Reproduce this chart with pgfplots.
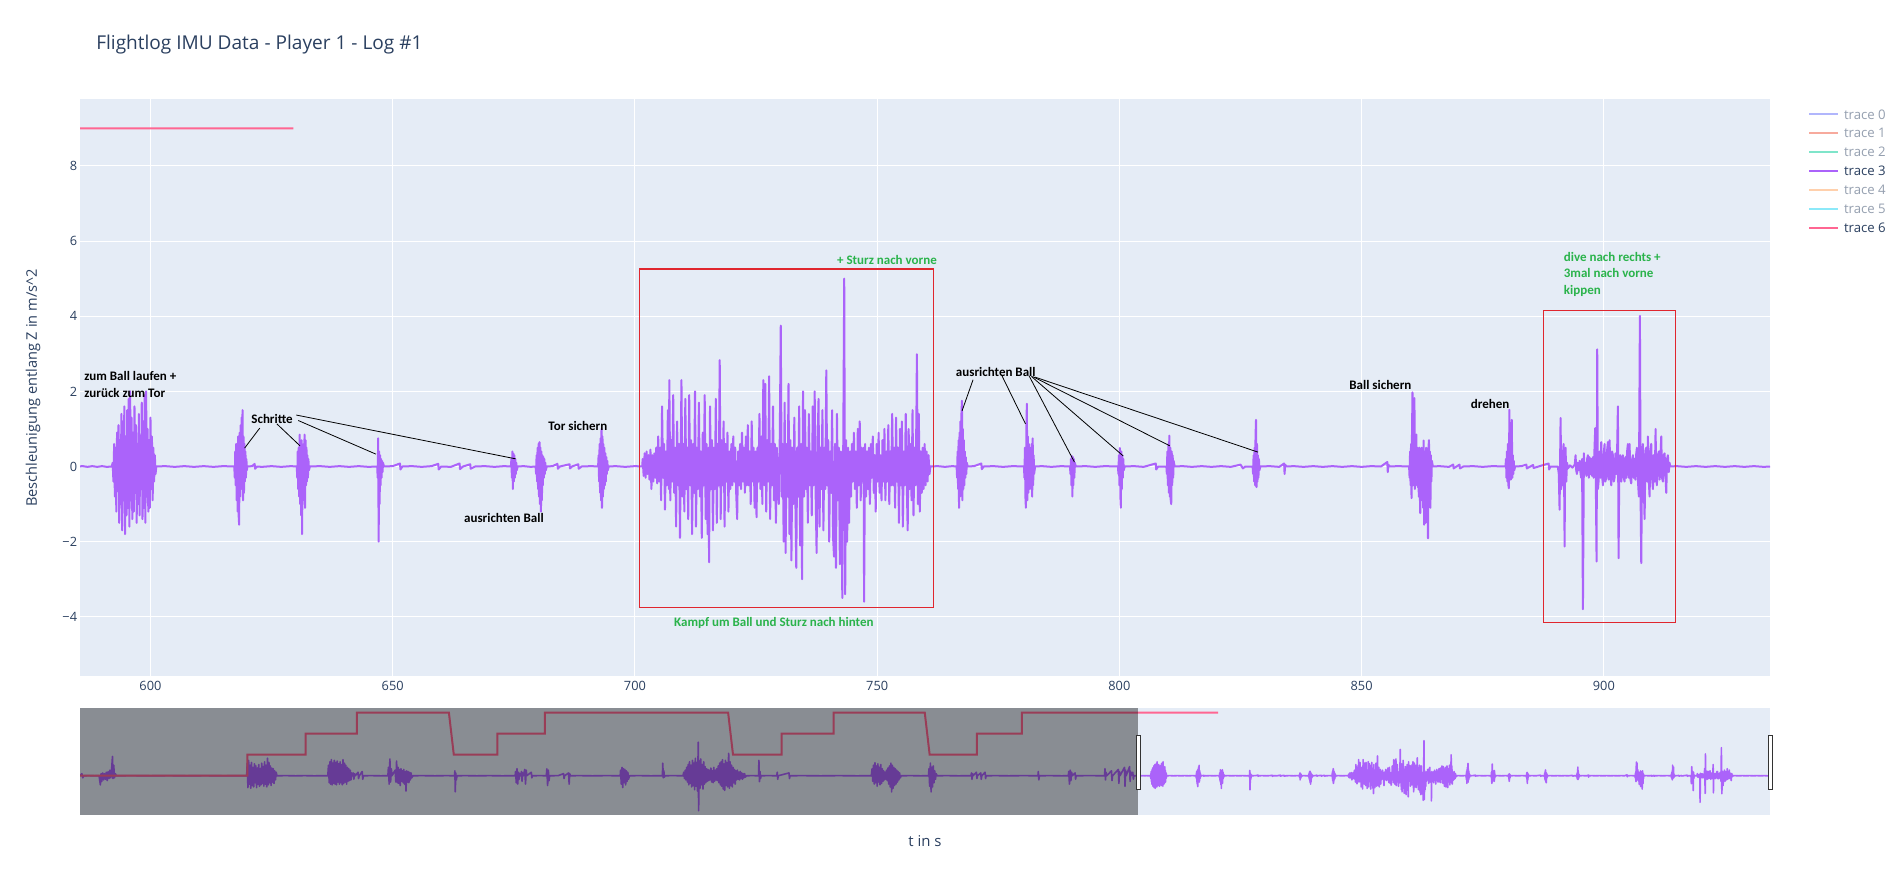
\documentclass[border=0pt]{standalone}
\usepackage{pgfplots}
\usepackage{pgfplotstable}
\pgfplotsset{compat=1.18}
\usepackage{fontspec}
\setmainfont{Open Sans}
\newfontfamily\annfont{Carlito}
\definecolor{plotbg}{HTML}{E5ECF6}
\definecolor{plottext}{HTML}{2A3F5F}
\definecolor{tr0}{HTML}{636EFA}
\definecolor{tr1}{HTML}{EF553B}
\definecolor{tr2}{HTML}{00CC96}
\definecolor{tr3}{HTML}{AB63FA}
\definecolor{tr4}{HTML}{FFA15A}
\definecolor{tr5}{HTML}{19D3F3}
\definecolor{tr6}{HTML}{FF6692}
\definecolor{anngreen}{HTML}{2AB34B}
\definecolor{boxred}{HTML}{E0262E}
\newcommand\ann{\annfont\bfseries\fontsize{9.75}{12.4}\selectfont}

% trace 3 : visible window (main plot)
\pgfplotstableread[row sep=\\]{
x y\\
585 0\\ 586 0.01\\ 587 -0.01\\ 588 0.01\\ 589 -0.01\\ 590 0.01\\ 591 -0.01\\ 592 0\\
592.2 0.1\\ 592.35 -0.4\\ 592.5 0.6\\ 592.65 -0.8\\ 592.8 0.5\\ 592.95 -1.2\\ 593.1 0.9\\ 593.25 -0.6\\ 593.4 1.1\\ 593.55 -1.5\\ 593.7 0.7\\ 593.85 -1.0\\ 594.0 1.4\\ 594.15 -1.7\\ 594.3 1.2\\ 594.45 -0.9\\ 594.6 1.6\\ 594.75 -1.8\\ 594.9 0.8\\ 595.05 -1.3\\ 595.2 1.5\\ 595.35 -1.1\\ 595.5 1.8\\ 595.65 -1.6\\ 595.8 2.0\\ 595.95 -0.9\\ 596.1 1.3\\ 596.25 -1.4\\ 596.4 0.9\\ 596.55 -1.2\\ 596.7 1.6\\ 596.85 -0.7\\ 597.0 1.1\\ 597.15 -1.5\\ 597.3 0.6\\ 597.45 -1.0\\ 597.6 1.4\\ 597.75 -1.3\\ 597.9 0.8\\ 598.05 -0.6\\ 598.2 1.7\\ 598.35 -1.4\\ 598.5 1.2\\ 598.65 -1.1\\ 598.8 1.9\\ 598.95 -1.5\\ 599.1 2.0\\ 599.25 -0.8\\ 599.4 1.0\\ 599.55 -1.2\\ 599.7 0.7\\ 599.85 -1.1\\ 600.0 1.3\\ 600.15 -0.6\\ 600.3 0.8\\ 600.45 -0.9\\ 600.6 0.5\\ 600.75 -0.4\\ 600.9 0.3\\ 601.05 -0.2\\ 601.2 0\\
603 0.01\\ 605 -0.01\\ 607 0.01\\ 609 -0.01\\ 611 0.01\\ 613 -0.01\\ 615 0.01\\ 617.3 0\\
617.4 -0.3\\ 617.5 0.4\\ 617.6 -0.5\\ 617.7 0.6\\ 617.8 -0.9\\ 617.9 0.5\\ 618.0 -1.2\\ 618.1 0.8\\ 618.2 -1.3\\ 618.3 -1.55\\ 618.4 0.9\\ 618.5 -0.8\\ 618.6 1.1\\ 618.7 -0.6\\ 618.8 1.3\\ 618.9 -0.5\\ 619.0 1.5\\ 619.1 -0.9\\ 619.2 0.8\\ 619.3 -0.7\\ 619.4 0.6\\ 619.5 -0.4\\ 619.6 0.4\\ 619.7 -0.3\\ 619.8 0.2\\ 619.9 -0.1\\ 620.0 0\\
621 0.01\\ 621.5 0.07\\ 621.6 -0.06\\ 622 0\\ 623 -0.01\\ 625 0.01\\ 627 -0.01\\ 629 0.01\\ 630.2 0\\
630.3 -0.3\\ 630.4 0.4\\ 630.5 -0.6\\ 630.6 0.5\\ 630.7 -0.8\\ 630.8 0.85\\ 630.9 -1.0\\ 631.0 0.6\\ 631.1 -1.3\\ 631.2 0.7\\ 631.3 -1.8\\ 631.4 0.5\\ 631.5 -0.9\\ 631.6 0.6\\ 631.7 -0.7\\ 631.8 0.85\\ 631.9 -1.1\\ 632.0 0.7\\ 632.1 -0.5\\ 632.2 0.5\\ 632.3 -0.4\\ 632.4 0.3\\ 632.5 -0.3\\ 632.6 0.2\\ 632.7 -0.1\\ 632.9 0\\
635 0.01\\ 637 -0.01\\ 639 0.01\\ 641 -0.01\\ 643 0.01\\ 645 -0.01\\ 646.8 0\\
646.9 -0.3\\ 647.0 0.75\\ 647.1 -2.0\\ 647.2 0.4\\ 647.3 -1.0\\ 647.4 0.3\\ 647.5 -0.5\\ 647.6 0.2\\ 647.7 -0.3\\ 647.8 0.15\\ 647.9 -0.15\\ 648.0 0.1\\ 648.2 0\\
650 0.01\\ 651.5 0.08\\ 651.6 -0.08\\ 652 0\\ 654 0.01\\ 656 -0.01\\ 658 0.01\\ 659.4 0.07\\ 659.5 -0.08\\ 660 0\\ 662 -0.01\\ 663.8 0.08\\ 663.9 -0.07\\ 664.5 0\\ 666 0.06\\ 666.1 -0.06\\ 667 0\\ 669 0.01\\ 671 -0.01\\ 673 0.01\\ 674.4 0\\
674.5 0.2\\ 674.6 -0.3\\ 674.7 0.4\\ 674.8 -0.6\\ 674.9 0.35\\ 675.0 -0.4\\ 675.1 0.3\\ 675.2 -0.3\\ 675.3 0.2\\ 675.4 -0.2\\ 675.5 0.1\\ 675.6 -0.1\\ 675.8 0\\
677 0.01\\ 678.5 -0.01\\ 679.5 0\\
679.6 -0.2\\ 679.7 0.3\\ 679.8 -0.4\\ 679.9 0.5\\ 680.0 -0.6\\ 680.1 0.6\\ 680.2 -0.8\\ 680.3 0.65\\ 680.4 -1.0\\ 680.5 0.5\\ 680.6 -1.2\\ 680.7 0.4\\ 680.8 -0.9\\ 680.9 0.3\\ 681.0 -0.5\\ 681.1 0.25\\ 681.2 -0.3\\ 681.3 0.2\\ 681.4 -0.2\\ 681.5 0.1\\ 681.6 -0.1\\ 681.8 0\\
683 0.01\\ 684 0.07\\ 684.1 -0.06\\ 684.5 0\\ 686.5 0.06\\ 686.6 -0.05\\ 687 0\\ 688.3 0.06\\ 688.4 -0.06\\ 689 0\\ 691 0.01\\ 692.4 0\\
692.5 0.3\\ 692.6 -0.4\\ 692.7 0.6\\ 692.8 -0.7\\ 692.9 0.75\\ 693.0 -0.9\\ 693.1 1.0\\ 693.2 -1.1\\ 693.3 0.8\\ 693.4 -0.8\\ 693.5 0.6\\ 693.6 -0.6\\ 693.7 0.5\\ 693.8 -0.5\\ 693.9 0.35\\ 694.0 -0.4\\ 694.1 0.25\\ 694.2 -0.2\\ 694.3 0.15\\ 694.4 -0.1\\ 694.6 0\\
696 0.01\\ 698 -0.01\\ 700 0.01\\ 701.5 0\\
701.6 0.2\\ 701.8 -0.25\\ 702.0 0.35\\ 702.2 -0.3\\ 702.4 0.4\\ 702.6 -0.2\\ 702.8 0.3\\ 703.0 -0.35\\ 703.2 0.45\\ 703.4 -0.6\\ 703.6 0.3\\ 703.8 -0.4\\ 704.0 0.35\\ 704.2 -0.3\\ 704.4 0.5\\ 704.6 -0.45\\
704.8 0.8\\ 705.0 -0.4\\ 705.2 0.5\\ 705.4 -0.9\\ 705.6 1.6\\ 705.8 -0.3\\ 706.0 0.6\\ 706.2 -1.15\\ 706.4 0.4\\ 706.6 -0.5\\
706.8 1.5\\ 707.0 -0.6\\ 707.1 2.3\\ 707.3 -0.9\\ 707.5 0.7\\ 707.7 -0.4\\ 707.9 1.9\\ 708.1 -0.7\\ 708.3 0.5\\ 708.5 -1.6\\ 708.7 1.2\\ 708.9 -0.5\\ 709.1 0.6\\ 709.3 -1.9\\
709.6 2.3\\ 709.8 -0.8\\ 710.0 0.6\\ 710.2 -1.2\\ 710.4 1.8\\ 710.6 -0.6\\ 710.8 0.5\\ 711.0 -1.4\\ 711.2 1.9\\ 711.4 -0.5\\ 711.6 0.7\\ 711.8 -1.8\\ 712.0 0.6\\ 712.2 -0.7\\ 712.4 2.0\\ 712.6 -1.6\\ 712.8 0.5\\ 713.0 -0.6\\ 713.2 1.7\\ 713.4 -0.8\\ 713.6 0.4\\ 713.8 -1.9\\ 714.0 0.9\\ 714.2 -0.5\\ 714.4 1.9\\ 714.6 -1.4\\ 714.8 0.6\\
715.0 -1.8\\ 715.2 0.5\\ 715.3 -2.55\\ 715.5 1.6\\ 715.7 -0.6\\ 715.9 0.7\\ 716.1 -1.7\\ 716.3 0.5\\ 716.5 -0.6\\ 716.7 1.8\\ 716.9 -1.5\\ 717.1 0.6\\ 717.3 -0.5\\ 717.5 2.83\\ 717.7 -1.4\\ 717.9 0.7\\ 718.1 -0.5\\ 718.3 1.2\\ 718.5 -1.6\\ 718.7 0.6\\ 718.9 -0.4\\ 719.1 0.9\\ 719.3 -1.2\\ 719.5 0.4\\
719.7 -0.6\\ 719.9 0.6\\ 720.1 -0.5\\ 720.3 0.8\\ 720.5 -0.4\\ 720.7 0.5\\ 720.9 -0.7\\ 721.1 -1.4\\ 721.3 0.4\\ 721.5 -0.5\\ 721.7 0.6\\ 721.9 -0.6\\ 722.1 0.9\\ 722.3 -0.4\\ 722.5 0.5\\ 722.7 -0.7\\ 722.9 0.8\\ 723.1 -0.5\\
723.3 1.1\\ 723.5 -0.5\\ 723.7 0.4\\ 723.9 -1.0\\ 724.1 1.2\\ 724.3 -0.4\\ 724.5 0.5\\ 724.7 -1.1\\ 724.9 0.4\\ 725.1 -1.35\\ 725.3 0.5\\ 725.5 -0.4\\ 725.7 1.4\\ 725.9 -0.6\\ 726.1 0.8\\ 726.3 -1.0\\ 726.5 2.3\\ 726.7 -0.5\\ 726.9 2.2\\ 727.1 -1.2\\ 727.3 0.7\\ 727.5 -0.4\\ 727.7 2.4\\ 727.9 -1.4\\ 728.1 0.6\\ 728.3 -0.5\\ 728.5 1.6\\ 728.7 -0.9\\ 728.9 0.6\\ 729.1 -1.5\\ 729.3 0.5\\ 729.5 -0.7\\
729.7 -1.0\\ 729.9 0.8\\ 730.1 3.75\\ 730.3 -0.8\\ 730.5 0.6\\ 730.7 -2.0\\ 730.9 1.7\\ 731.1 -2.3\\ 731.3 0.6\\ 731.5 -0.8\\ 731.7 2.2\\ 731.9 -1.8\\ 732.1 0.7\\ 732.3 -2.5\\ 732.5 0.5\\ 732.7 -1.0\\ 732.9 1.3\\ 733.1 -0.7\\ 733.3 -2.7\\ 733.5 0.5\\ 733.7 -0.8\\ 733.9 1.6\\ 734.1 -2.1\\ 734.3 0.6\\ 734.5 -3.0\\ 734.7 2.0\\ 734.9 -0.8\\ 735.1 1.5\\
735.3 -0.6\\ 735.5 0.5\\ 735.7 -1.5\\ 735.9 1.4\\ 736.1 -0.5\\ 736.3 0.4\\ 736.5 -1.3\\ 736.7 1.6\\ 736.9 -0.5\\ 737.1 2.0\\ 737.3 -0.7\\ 737.5 -2.3\\ 737.7 0.6\\ 737.9 1.8\\ 738.1 -1.6\\ 738.3 0.5\\ 738.5 -0.6\\ 738.7 1.5\\ 738.9 -1.7\\ 739.1 0.5\\ 739.3 -0.6\\ 739.5 2.56\\ 739.7 -0.5\\ 739.9 0.7\\ 740.1 -2.0\\ 740.3 0.4\\ 740.5 -0.7\\ 740.7 1.5\\ 740.9 -1.9\\ 741.1 -2.4\\ 741.3 0.6\\ 741.5 -2.7\\
741.7 1.4\\ 741.9 -0.9\\ 742.1 0.5\\ 742.3 -2.6\\ 742.5 0.4\\ 742.7 -0.8\\ 742.8 -3.5\\ 743.0 0.6\\ 743.2 5.0\\ 743.4 -3.4\\ 743.6 0.7\\ 743.8 -2.0\\ 744.0 0.5\\ 744.2 -1.5\\ 744.4 0.4\\
744.6 -0.8\\ 744.8 0.6\\ 745.0 -0.4\\ 745.2 0.9\\ 745.4 -0.6\\ 745.6 0.4\\ 745.8 -1.1\\ 746.0 1.0\\ 746.2 -0.5\\ 746.4 1.2\\ 746.6 -0.9\\ 746.8 0.5\\ 747.0 -0.4\\ 747.2 0.5\\ 747.3 -3.6\\ 747.5 0.6\\ 747.7 -0.8\\ 747.9 0.4\\ 748.1 -0.6\\ 748.3 0.5\\ 748.5 -1.0\\ 748.7 0.6\\ 748.9 -0.3\\ 749.1 0.8\\ 749.3 -0.7\\ 749.5 0.3\\ 749.7 -1.2\\ 749.9 0.6\\ 750.1 -0.4\\ 750.3 0.9\\ 750.5 -0.7\\ 750.7 0.3\\ 750.9 -0.9\\ 751.1 0.7\\ 751.3 -0.4\\ 751.5 1.0\\
751.7 -0.9\\ 751.9 0.4\\ 752.1 -0.4\\ 752.3 1.1\\ 752.5 -1.0\\ 752.7 0.4\\ 752.9 -0.5\\ 753.1 1.4\\ 753.3 -0.5\\ 753.5 0.5\\ 753.7 -1.1\\ 753.9 1.3\\ 754.1 -0.4\\ 754.3 0.5\\ 754.5 -1.5\\ 754.7 1.0\\ 754.9 -0.5\\ 755.1 1.2\\ 755.3 -1.6\\ 755.5 0.4\\ 755.7 -0.5\\ 755.9 1.4\\ 756.1 -0.4\\ 756.3 -1.7\\ 756.5 1.0\\ 756.7 -0.6\\ 756.9 0.6\\ 757.1 -0.9\\ 757.3 1.5\\ 757.5 -1.3\\ 757.7 0.5\\ 757.9 -0.5\\ 758.1 1.3\\ 758.2 2.99\\ 758.4 -1.0\\ 758.6 1.4\\ 758.8 -1.2\\ 759.0 0.4\\
759.2 -0.7\\ 759.4 0.5\\ 759.6 -0.6\\ 759.8 0.6\\ 760.0 -0.5\\ 760.2 0.4\\ 760.4 -0.4\\ 760.6 0.3\\ 760.8 -0.2\\ 761.0 0\\
762.5 0.01\\ 764 -0.01\\ 765.5 0.01\\ 766.4 0\\
766.5 -0.3\\ 766.6 0.4\\ 766.7 -0.6\\ 766.8 0.7\\ 766.9 -1.1\\ 767.0 0.9\\ 767.1 -0.8\\ 767.2 1.2\\ 767.3 -0.7\\ 767.4 1.4\\ 767.5 1.75\\ 767.6 -0.9\\ 767.7 1.0\\ 767.8 -0.6\\ 767.9 0.7\\ 768.0 -0.5\\ 768.1 0.4\\ 768.2 -0.3\\ 768.3 0.25\\ 768.4 -0.2\\ 768.5 0.1\\ 768.7 0\\
770 0.01\\ 771.5 0.08\\ 771.6 -0.07\\ 772 0\\ 774 0.01\\ 776 -0.01\\ 778 0.01\\ 780.3 0\\
780.4 -0.3\\ 780.5 0.5\\ 780.6 -0.8\\ 780.7 -1.1\\ 780.8 1.0\\ 780.9 1.67\\ 781.0 -0.9\\ 781.1 0.8\\ 781.2 -0.7\\ 781.3 0.6\\ 781.4 -0.6\\ 781.5 0.5\\ 781.6 -0.5\\ 781.7 0.45\\ 781.8 -0.6\\ 781.9 0.6\\ 782.0 -0.8\\ 782.1 0.75\\ 782.2 -0.5\\ 782.3 0.3\\ 782.4 -0.2\\ 782.6 0\\
784 0.01\\ 786 -0.01\\ 788 0.01\\ 789.8 0\\
789.9 -0.2\\ 790.0 0.2\\ 790.1 -0.5\\ 790.2 0.28\\ 790.3 -0.8\\ 790.4 0.25\\ 790.5 -0.5\\ 790.6 0.2\\ 790.7 -0.3\\ 790.8 0.1\\ 791.0 0\\
793 0.01\\ 795 -0.01\\ 797 0.01\\ 799.7 0\\
799.8 -0.2\\ 799.9 0.3\\ 800.0 -0.5\\ 800.1 0.49\\ 800.2 -0.8\\ 800.3 -1.1\\ 800.4 0.4\\ 800.5 -0.6\\ 800.6 0.3\\ 800.7 -0.3\\ 800.8 0.2\\ 800.9 -0.1\\ 801.1 0\\
803 0.01\\ 805 -0.01\\ 807.5 0.08\\ 807.6 -0.08\\ 808 0\\ 809.7 0\\
809.8 -0.2\\ 809.9 0.4\\ 810.0 -0.5\\ 810.1 0.6\\ 810.2 -0.7\\ 810.3 0.82\\ 810.4 -0.8\\ 810.5 0.5\\ 810.6 -0.9\\ 810.7 -1.0\\ 810.8 0.4\\ 810.9 -0.5\\ 811.0 0.3\\ 811.1 -0.3\\ 811.2 0.15\\ 811.4 0\\
813 0.01\\ 815 -0.01\\ 817 0.01\\ 819 -0.01\\ 821 0.01\\ 823 -0.01\\ 825 0.05\\ 825.5 -0.05\\ 826 0\\ 827.5 0\\
827.6 -0.2\\ 827.7 0.3\\ 827.8 -0.4\\ 827.9 0.5\\ 828.0 -0.5\\ 828.1 0.8\\ 828.2 1.24\\ 828.3 -0.55\\ 828.4 0.6\\ 828.5 -0.4\\ 828.6 0.3\\ 828.7 -0.3\\ 828.8 0.2\\ 828.9 -0.1\\ 829.1 0\\
831 0.01\\ 833 -0.01\\ 834.0 0.08\\ 834.1 -0.2\\ 834.2 0.05\\ 834.5 0\\ 836 0.01\\ 838 -0.01\\ 840 0.01\\ 842 -0.01\\ 844 0.01\\ 846 -0.01\\ 848 0.01\\ 850 -0.01\\ 852 0.01\\ 854 0\\ 855.3 0.12\\ 855.4 -0.15\\ 855.5 0.05\\ 855.8 0\\ 857.5 0.01\\ 859.8 0\\
859.9 -0.3\\ 860.0 0.4\\ 860.1 -0.5\\ 860.2 0.6\\ 860.3 -0.84\\ 860.4 0.9\\ 860.5 1.97\\ 860.6 -0.5\\ 860.7 1.0\\ 860.8 -0.4\\ 860.9 1.82\\ 861.0 -0.6\\ 861.1 0.7\\ 861.2 -0.4\\ 861.3 0.85\\ 861.4 -0.5\\ 861.5 0.5\\ 861.6 -0.55\\ 861.7 0.4\\ 861.8 -0.8\\ 861.9 0.5\\ 862.0 -0.6\\ 862.1 -1.24\\ 862.2 0.45\\ 862.3 -0.7\\ 862.4 0.5\\ 862.5 -0.9\\ 862.6 0.4\\ 862.7 -1.1\\ 862.8 0.69\\ 862.9 -1.55\\ 863.0 0.4\\ 863.1 -0.8\\ 863.2 -1.5\\ 863.3 0.5\\ 863.4 -1.0\\ 863.5 0.4\\ 863.6 -0.7\\ 863.7 -1.91\\ 863.8 0.5\\ 863.9 0.7\\ 864.0 -0.9\\ 864.1 0.4\\ 864.2 -1.1\\ 864.3 0.3\\ 864.4 -0.4\\ 864.5 0.15\\ 864.7 0\\
866 0.01\\ 868 -0.01\\ 868.9 0.05\\ 869.0 -0.05\\ 870.2 0.05\\ 870.3 -0.05\\ 871 0\\ 873 0.01\\ 875 -0.01\\ 877 0.01\\ 879.7 0\\
879.8 0.2\\ 879.9 -0.3\\ 880.0 0.4\\ 880.1 -0.4\\ 880.2 0.6\\ 880.3 -0.5\\ 880.4 -0.58\\ 880.5 1.51\\ 880.6 -0.3\\ 880.7 0.6\\ 880.8 -0.35\\ 880.9 0.8\\ 881.0 1.24\\ 881.1 -0.3\\ 881.2 0.3\\ 881.3 -0.2\\ 881.4 0.15\\ 881.5 -0.1\\ 881.7 0\\
883 0.01\\ 884 0.05\\ 884.1 -0.05\\ 885.4 0.04\\ 885.5 -0.04\\ 886.5 0\\ 888.6 0.08\\ 888.7 -0.08\\ 889 0\\ 890.5 0\\
890.7 -0.2\\ 890.86 -1.15\\ 891.0 0.5\\ 891.07 1.29\\ 891.2 -0.6\\ 891.3 0.4\\ 891.41 -0.5\\ 891.55 0.3\\ 891.69 0.6\\ 891.8 -0.4\\ 891.9 -2.13\\ 892.0 0.3\\ 892.1 0.5\\ 892.24 -0.4\\ 892.4 0.1\\ 892.6 -0.05\\ 893.0 0.03\\ 893.5 -0.03\\ 894.0 0.05\\ 894.16 0.3\\ 894.3 -0.1\\ 894.44 -0.2\\ 894.6 0.1\\ 894.8 -0.1\\ 895.0 0.15\\ 895.2 -0.2\\ 895.33 -0.3\\ 895.5 0.2\\ 895.68 -3.8\\ 895.88 0.35\\ 896.0 -0.2\\ 896.23 0.1\\ 896.4 -0.25\\ 896.55 0.2\\ 896.71 0.3\\ 896.9 -0.3\\ 897.05 0.25\\ 897.2 -0.2\\ 897.4 0.2\\ 897.55 -0.25\\ 897.74 0.25\\ 897.9 -0.3\\ 898.05 0.4\\ 898.22 1.02\\ 898.35 -0.5\\ 898.5 -2.53\\ 898.63 3.12\\ 898.77 -0.6\\ 898.91 -0.4\\ 899.0 0.3\\ 899.12 0.4\\ 899.3 -0.3\\ 899.46 0.65\\ 899.6 -0.2\\ 899.81 -0.5\\ 899.95 0.3\\ 900.15 0.6\\ 900.3 -0.4\\ 900.49 -0.3\\ 900.65 0.4\\ 900.84 0.65\\ 901.0 -0.35\\ 901.18 0.7\\ 901.35 -0.2\\ 901.53 -0.5\\ 901.7 0.4\\ 901.87 0.3\\ 902.05 -0.4\\ 902.21 -0.3\\ 902.4 0.35\\ 902.56 -0.2\\ 902.75 0.5\\ 902.9 1.6\\ 903.04 -2.44\\ 903.2 0.2\\ 903.38 0.3\\ 903.59 -0.4\\ 903.75 0.2\\ 903.93 0.3\\ 904.1 -0.3\\ 904.28 -0.4\\ 904.45 0.25\\ 904.62 -0.3\\ 904.8 0.4\\ 904.96 0.6\\ 905.15 -0.3\\ 905.31 0.6\\ 905.5 -0.35\\ 905.65 -0.45\\ 905.85 0.2\\ 906.0 0.3\\ 906.17 -0.3\\ 906.34 0.2\\ 906.5 -0.35\\ 906.65 0.3\\ 906.82 0.5\\ 907.0 -0.3\\ 907.23 -0.8\\ 907.44 4.01\\ 907.6 -1.0\\ 907.72 -2.57\\ 907.9 0.3\\ 908.06 0.6\\ 908.25 -0.5\\ 908.41 -1.4\\ 908.6 0.4\\ 908.75 0.5\\ 908.95 -0.4\\ 909.09 0.8\\ 909.25 -0.3\\ 909.44 -0.8\\ 909.6 0.4\\ 909.78 0.6\\ 909.95 -0.3\\ 910.13 -0.6\\ 910.3 0.3\\ 910.5 -0.4\\ 910.68 1.0\\ 910.8 -0.3\\ 910.95 -0.5\\ 911.15 0.3\\ 911.36 0.4\\ 911.5 -0.35\\ 911.7 0.3\\ 911.85 0.8\\ 912.0 -0.3\\ 912.19 -0.4\\ 912.35 0.3\\ 912.54 0.35\\ 912.7 -0.2\\ 912.88 -0.7\\ 913.05 0.2\\ 913.22 0.3\\ 913.4 -0.15\\ 913.57 0.1\\ 913.7 0\\
915 0.01\\ 917 -0.01\\ 919 0.01\\ 921 -0.01\\ 923 0.01\\ 925 -0.01\\ 927 0.01\\ 929 -0.01\\ 931 0.01\\ 933 -0.01\\ 934.3 0\\
}\maindata

% trace 3 : earlier part, only seen in the range slider
\pgfplotstableread[row sep=\\]{
x y\\
1 0\\ 2 0.3\\ 2.5 -0.3\\ 3 0\\ 6 0.01\\ 9 -0.01\\ 11.5 0\\
12.2 -1.3\\ 12.6 0.3\\ 13.0 -0.8\\ 13.5 0.4\\ 14.0 -0.6\\ 14.5 0.3\\ 15.0 -0.5\\ 15.5 0.5\\ 16.0 -0.7\\ 16.5 0.6\\ 17.0 -0.4\\ 17.5 0.8\\ 18.0 -0.3\\ 18.5 1.2\\ 18.9 2.75\\ 19.2 -0.4\\ 19.6 1.5\\ 20.0 -0.3\\ 20.5 0.3\\ 21 0\\
30 0.01\\ 40 -0.01\\ 50 0.01\\ 60 -0.01\\ 70 0.01\\ 80 -0.01\\ 93 0\\
93.3 1.8\\ 93.7 -1.7\\ 94.1 2.2\\ 94.5 -1.2\\ 94.9 1.5\\ 95.3 -1.8\\ 95.7 1.9\\ 96.1 -1.4\\ 96.5 1.2\\ 96.9 -1.6\\ 97.3 1.7\\ 97.7 -1.0\\ 98.1 1.4\\ 98.5 -1.7\\ 98.9 1.1\\ 99.3 -1.2\\ 99.7 1.6\\ 100.1 -1.5\\ 100.5 1.0\\ 100.9 -1.3\\ 101.3 1.8\\ 101.7 -1.1\\ 102.1 1.3\\ 102.5 -1.5\\ 102.9 2.0\\ 103.3 -1.2\\ 103.7 1.5\\ 104.1 -1.6\\ 104.5 2.5\\ 104.9 -1.3\\ 105.3 1.9\\ 105.7 -1.0\\ 106.1 1.4\\ 106.5 -1.4\\ 106.9 1.1\\ 107.3 -0.9\\ 107.7 1.0\\ 108.1 -1.1\\ 108.5 0.7\\ 108.9 -0.6\\ 109.3 0.5\\ 109.7 0\\
115 0.01\\ 120 -0.01\\ 125 0.01\\ 130 -0.01\\ 137.8 0\\
138.2 1.5\\ 138.6 -1.0\\ 139.0 2.0\\ 139.4 -1.2\\ 139.8 2.3\\ 140.2 -1.3\\ 140.6 1.8\\ 141.0 -1.1\\ 141.4 2.2\\ 141.8 -1.2\\ 142.2 1.9\\ 142.6 -1.3\\ 143.0 2.1\\ 143.4 -0.9\\ 143.8 1.7\\ 144.2 -1.2\\ 144.6 2.0\\ 145.0 -1.0\\ 145.4 1.6\\ 145.8 -1.3\\ 146.2 2.3\\ 146.6 -1.1\\ 147.0 1.8\\ 147.4 -0.9\\ 147.8 1.5\\ 148.2 -1.2\\ 148.6 1.2\\ 149.0 -0.8\\ 149.4 1.0\\ 149.8 -0.7\\ 150.2 0.8\\ 150.6 -0.6\\ 151.0 0.4\\ 151.4 0\\
151.8 0.4\\ 152.2 -0.5\\ 152.6 0.3\\ 153 0\\ 154.5 0.5\\ 154.8 -0.4\\ 155.2 0\\ 156.8 0.6\\ 157.1 -0.5\\ 157.5 0\\
162 0.01\\ 167 -0.01\\ 171 0\\
171.3 1.2\\ 171.7 -1.2\\ 172.1 2.4\\ 172.5 -0.9\\ 172.9 1.0\\ 173.3 0\\
175.0 0.8\\ 175.4 -0.9\\ 175.8 2.1\\ 176.2 -1.0\\ 176.6 1.2\\ 177.0 -1.1\\ 177.4 0.9\\ 177.8 -1.4\\ 178.2 1.0\\ 178.6 -0.8\\ 179.0 0.7\\ 179.4 -1.0\\ 179.8 0.9\\ 180.2 -1.2\\ 180.6 0.6\\ 181.0 -2.2\\ 181.4 0.7\\ 181.8 -0.9\\ 182.2 0.6\\ 182.6 -1.0\\ 183.0 0.5\\ 183.4 -0.6\\ 183.8 0.4\\ 184.2 -0.3\\ 184.8 0\\
190 0.01\\ 197 -0.01\\ 203 0.01\\ 207.8 0\\ 208.0 0.7\\ 208.2 -2.3\\ 208.5 0.4\\ 208.8 -0.6\\ 209.2 0\\
214 0.01\\ 220 -0.01\\ 227 0.01\\ 234 -0.01\\ 241.3 0\\
241.5 0.6\\ 241.9 -1.0\\ 242.3 1.0\\ 242.7 -1.2\\ 243.1 0.5\\ 243.5 -0.5\\ 243.9 0.3\\ 244.3 0\\ 244.8 0.6\\ 245.1 -0.8\\ 245.5 0.4\\ 245.8 0\\ 246.6 0.9\\ 247.0 -1.2\\ 247.4 0.8\\ 247.7 0\\ 250.2 0.5\\ 250.5 -0.3\\ 250.8 0\\
255 0.01\\ 258.5 0\\ 258.8 1.0\\ 259.2 -1.4\\ 259.6 0.8\\ 260.0 -0.7\\ 260.3 0\\ 265 0.01\\ 268 0.3\\ 268.3 -0.4\\ 268.6 0\\ 270.8 0.4\\ 271.1 -1.2\\ 271.4 0.3\\ 271.8 0\\
277 0.01\\ 284 -0.01\\ 291 0.01\\ 299.3 0\\
299.5 0.8\\ 299.9 -1.2\\ 300.3 1.2\\ 300.7 -1.7\\ 301.1 1.0\\ 301.5 -1.0\\ 301.9 0.9\\ 302.3 -1.3\\ 302.7 0.7\\ 303.1 -0.8\\ 303.5 0.5\\ 303.9 -0.5\\ 304.4 0\\
310 0.01\\ 316 -0.01\\ 322.6 0\\ 322.8 1.8\\ 323.1 -0.3\\ 323.4 0.7\\ 323.7 -0.2\\ 324 0\\ 328 0.01\\ 334 0\\
334.4 0.5\\ 334.8 -0.4\\ 335.2 0.8\\ 335.6 -0.6\\ 336.0 1.2\\ 336.4 -0.9\\ 336.8 1.6\\ 337.2 -1.3\\ 337.6 2.0\\ 338.0 -1.1\\ 338.4 1.5\\ 338.8 -1.6\\ 339.2 2.2\\ 339.6 -1.4\\ 340.0 1.8\\ 340.4 -2.0\\ 340.8 2.5\\ 341.2 -1.5\\ 341.6 1.9\\ 342.0 -2.2\\ 342.4 4.8\\ 342.6 -5.0\\ 343.0 2.1\\ 343.4 -1.8\\ 343.8 2.4\\ 344.2 -1.3\\ 344.6 1.6\\ 345.0 -1.9\\ 345.4 2.0\\ 345.8 -1.2\\ 346.2 1.3\\ 346.6 -1.0\\ 347.0 1.0\\ 347.4 -0.8\\ 347.8 0.9\\ 348.2 -0.7\\ 348.6 0.8\\ 349.0 -0.6\\ 349.4 1.1\\ 349.8 -0.9\\ 350.2 0.7\\ 350.6 -1.0\\ 351.0 1.2\\ 351.4 -0.8\\ 351.8 0.8\\ 352.2 -0.6\\ 352.6 1.0\\ 353.0 -0.7\\ 353.4 1.4\\ 353.8 -1.0\\ 354.2 1.8\\ 354.6 -1.3\\ 355.0 2.0\\ 355.4 -1.5\\ 355.8 2.3\\ 356.2 -1.9\\ 356.6 1.7\\ 357.0 -2.1\\ 357.4 2.2\\ 357.8 -1.4\\ 358.2 1.9\\ 358.6 -1.6\\ 359.2 3.2\\ 359.6 -1.8\\ 360.0 2.0\\ 360.4 -1.4\\ 360.8 1.5\\ 361.2 -1.6\\ 361.6 1.2\\ 362.0 -1.0\\ 362.4 0.9\\ 362.8 -1.2\\ 363.2 0.7\\ 363.6 -0.6\\ 364.0 0.8\\ 364.4 -0.5\\ 364.8 0.5\\ 365.2 -0.6\\ 365.6 0.6\\ 366.0 -0.4\\ 366.4 0.4\\ 366.8 -0.5\\ 367.2 0.3\\ 367.6 -0.3\\ 368.0 0.3\\ 368.4 -0.2\\ 369.0 0\\
372 0.01\\ 375.7 0\\ 375.9 2.2\\ 376.2 -0.85\\ 376.5 0.6\\ 376.8 -0.4\\ 377.1 0\\ 381 0.01\\ 385.8 0\\ 386 0.5\\ 386.3 -0.5\\ 386.6 0\\ 392.5 0.4\\ 392.8 -0.4\\ 393.1 0\\
400 0.01\\ 410 -0.01\\ 420 0.01\\ 430 -0.01\\ 438 0\\
438.4 1.0\\ 438.8 -0.8\\ 439.2 1.5\\ 439.6 -1.2\\ 440.0 1.85\\ 440.4 -1.0\\ 440.8 1.4\\ 441.2 -1.5\\ 441.6 1.7\\ 442.0 -0.9\\ 442.4 1.2\\ 442.8 -1.3\\ 443.2 1.6\\ 443.6 -1.1\\ 444.0 1.0\\ 444.4 -0.8\\ 444.8 0.7\\ 445.2 -0.6\\ 445.6 0.5\\ 446.0 -0.5\\ 446.4 0.8\\ 446.8 -0.7\\ 447.2 1.1\\ 447.6 -1.2\\ 448.0 1.4\\ 448.4 -1.6\\ 448.8 1.8\\ 449.2 -2.3\\ 449.6 1.5\\ 450.0 -1.8\\ 450.4 1.2\\ 450.8 -1.4\\ 451.2 1.0\\ 451.6 -1.2\\ 452.0 0.8\\ 452.4 -0.9\\ 452.8 0.6\\ 453.2 -0.6\\ 453.6 0.4\\ 454.0 -0.3\\ 454.5 0\\
460 0.01\\ 465 -0.01\\ 469.6 0\\ 469.8 1.0\\ 470.2 -1.5\\ 470.6 1.8\\ 471.0 -2.3\\ 471.4 1.2\\ 471.8 -1.6\\ 472.2 1.4\\ 472.6 -1.0\\ 473.0 0.7\\ 473.4 -0.5\\ 473.8 0.3\\ 474.3 0\\
480 0.01\\ 486 -0.01\\ 493 0\\ 493.3 0.4\\ 493.6 -0.5\\ 493.9 0.3\\ 494.2 0\\ 496 0.5\\ 496.3 -0.4\\ 496.6 0\\ 498.4 0.4\\ 498.7 -0.5\\ 499.0 0\\ 500.8 0.5\\ 501.1 -0.4\\ 501.4 0\\
507 0.01\\ 514 -0.01\\ 521 0.01\\ 530 0\\ 530.2 0.6\\ 530.5 -0.6\\ 530.8 0\\ 537 0.01\\ 543 -0.01\\ 546.8 0\\
547.0 0.6\\ 547.4 -1.2\\ 547.8 0.8\\ 548.2 -0.7\\ 548.6 0.5\\ 549 0\\ 550.5 0.4\\ 550.8 -0.5\\ 551.1 0\\ 558 0.01\\ 566.8 0\\
567.0 1.0\\ 567.3 -0.6\\ 567.6 0.5\\ 568 0\\ 570.6 0.7\\ 570.9 -0.7\\ 571.2 0\\ 574.4 0.9\\ 574.7 -1.1\\ 575.0 0.6\\ 575.3 0\\ 577.8 1.2\\ 578.1 -1.5\\ 578.4 0.8\\ 578.7 0\\ 580.6 1.3\\ 580.9 -0.8\\ 581.2 0.6\\ 581.5 0\\ 582.4 0.5\\ 582.7 -0.5\\ 583.0 0\\ 585 0\\
}\earlydata

% trace 6
\pgfplotstableread[row sep=\\]{
x y\\
1 0\\ 93.4 0\\ 93.4 3\\ 125.6 3\\ 125.6 6\\ 153.8 6\\ 153.8 9\\ 204.7 9\\ 207.4 3\\ 231.5 3\\ 231.5 6\\ 257.7 6\\ 257.7 9\\ 358.9 9\\ 361.6 3\\ 388.4 3\\ 388.4 6\\ 417.2 6\\ 417.2 9\\ 467.5 9\\ 470.2 3\\ 496.3 3\\ 496.3 6\\ 521.1 6\\ 521.1 9\\ 629.5 9\\
}\stepdata

\begin{document}
\begin{tikzpicture}
\path[use as bounding box] (0,0) rectangle (1428pt,671.25pt);

% ---------- main plot ----------
\begin{axis}[
  at={(60pt,163.875pt)}, anchor=south west,
  scale only axis, width=1267.5pt, height=432.75pt,
  xmin=585.46, xmax=934.3, ymin=-5.59, ymax=9.77,
  axis background/.style={fill=plotbg},
  axis line style={draw=none},
  tick style={draw=none},
  grid=major, major grid style={white, line width=0.75pt},
  xtick={600,650,700,750,800,850,900},
  xticklabels={600,650,700,750,800,850,900},
  ytick={-4,-2,0,2,4,6,8},
  yticklabels={−4,−2,0,2,4,6,8},
  ticklabel style={font=\fontsize{9.6}{9.6}\selectfont, text=plottext},
  xticklabel style={anchor=north, inner sep=0pt, yshift=-3.4pt},
  yticklabel style={anchor=east, inner sep=0pt, xshift=-2pt},
  clip mode=individual,
]
\addplot[tr3, line width=1.5pt, line join=round] table {\maindata};
\addplot[tr6, line width=1.5pt] table {\stepdata};

% red boxes
\draw[boxred, line width=0.8pt] (axis cs:700.88,-3.744) rectangle (axis cs:761.58,5.257);
\draw[boxred, line width=0.8pt] (axis cs:887.63,-4.144) rectangle (axis cs:914.74,4.146);

% annotation arrows
\draw[black, line width=0.6pt] (axis cs:622.56,1.023) -- (axis cs:619.43,0.49);
\draw[black, line width=0.6pt] (axis cs:626.07,1.137) -- (axis cs:630.86,0.551);
\draw[black, line width=0.6pt] (axis cs:630.49,1.225) -- (axis cs:646.52,0.330);
\draw[black, line width=0.6pt] (axis cs:630.12,1.369) -- (axis cs:675.35,0.205);
\draw[black, line width=0.6pt] (axis cs:769.79,2.309) -- (axis cs:767.53,1.483);
\draw[black, line width=0.6pt] (axis cs:775.66,2.442) -- (axis cs:780.61,1.137);
\draw[black, line width=0.6pt] (axis cs:781.35,2.415) -- (axis cs:790.72,0.117);
\draw[black, line width=0.6pt] (axis cs:781.85,2.397) -- (axis cs:800.75,0.285);
\draw[black, line width=0.6pt] (axis cs:782.05,2.397) -- (axis cs:810.39,0.551);
\draw[black, line width=0.6pt] (axis cs:782.53,2.381) -- (axis cs:828.61,0.383);

% annotation texts
\node[font=\ann, anchor=west, align=left, inner sep=0pt] at (axis cs:586.29,2.18) {zum Ball laufen +\\zurück zum Tor};
\node[font=\ann, inner sep=0pt] at (axis cs:625.1,1.26) {Schritte};
\node[font=\ann, inner sep=0pt] at (axis cs:688.22,1.084) {Tor sichern};
\node[font=\ann, inner sep=0pt] at (axis cs:672.95,-1.358) {ausrichten Ball};
\node[font=\ann, inner sep=0pt] at (axis cs:774.48,2.514) {ausrichten Ball};
\node[font=\ann, inner sep=0pt] at (axis cs:853.87,2.176) {Ball sichern};
\node[font=\ann, inner sep=0pt] at (axis cs:876.52,1.670) {drehen};
\node[font=\ann, text=anngreen, inner sep=0pt] at (axis cs:752.02,5.505) {+ Sturz nach vorne};
\node[font=\ann, text=anngreen, inner sep=0pt] at (axis cs:728.67,-4.154) {Kampf um Ball und Sturz nach hinten};
\node[font=\ann, text=anngreen, anchor=west, align=left, inner sep=0pt] at (axis cs:891.69,5.118) {dive nach rechts +\\3mal nach vorne\\kippen};
\end{axis}

% ---------- range slider ----------
\begin{axis}[
  at={(60pt,60.2pt)}, anchor=south west,
  scale only axis, width=1267.5pt, height=80pt,
  xmin=0.96, xmax=934.3, ymin=-5.57, ymax=9.67,
  axis background/.style={fill=plotbg},
  axis line style={draw=none},
  ticks=none,
]
\addplot[tr3, line width=1.2pt, line join=round] table {\earlydata};
\addplot[tr3, line width=1.2pt, line join=round] table {\maindata};
\addplot[tr6, line width=1.5pt] table {\stepdata};
\fill[black, fill opacity=0.4] (axis cs:0.96,-5.57) rectangle (axis cs:585.46,9.67);
\end{axis}

% slider handles
\draw[fill=white, draw=black!80, line width=0.75pt] (852.3pt,79.3pt) rectangle (855.5pt,119.8pt);
\draw[fill=white, draw=black!80, line width=0.75pt] (1326.2pt,79.3pt) rectangle (1329.4pt,119.8pt);

% titles
\node[anchor=west, inner sep=0pt, text=plottext, font=\fontsize{14.3}{14.3}\selectfont] at (72pt,638pt) {Flightlog IMU Data - Player 1 - Log \#1};
\node[inner sep=0pt, text=plottext, font=\fontsize{11.2}{11.2}\selectfont] at (693.75pt,40.5pt) {t in s};
\node[inner sep=0pt, text=plottext, rotate=90, font=\fontsize{10.95}{10.95}\selectfont] at (24.75pt,380.25pt) {Beschleunigung entlang Z in m/s\textasciicircum 2};

% legend
\foreach \k/\c/\o in {0/tr0/0.5,1/tr1/0.5,2/tr2/0.5,3/tr3/1,4/tr4/0.5,5/tr5/0.5,6/tr6/1} {
  \pgfmathsetmacro\yy{585.5-14.175*\k}
  \draw[\c, line width=1.5pt, opacity=\o] (1357pt,\yy pt) -- (1378.7pt,\yy pt);
  \node[anchor=west, inner sep=0pt, text=plottext, opacity=\o, font=\fontsize{9.9}{9.9}\selectfont] at (1382.8pt,\yy pt) {trace \k};
}
\end{tikzpicture}
\end{document}
